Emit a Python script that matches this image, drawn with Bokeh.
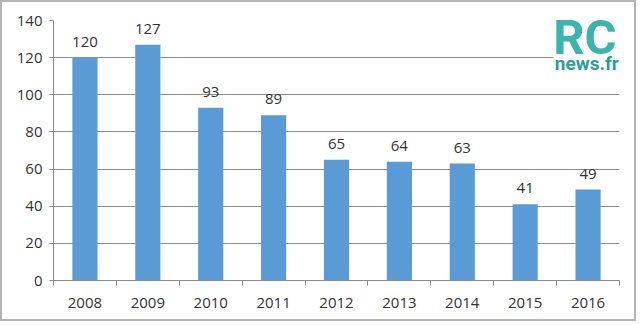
from bokeh.plotting import figure
from bokeh.models import Range1d, FixedTicker, LabelSet, ColumnDataSource, BoxAnnotation
from bokeh.core.properties import value
from bokeh.embed import file_html
from bokeh.resources import INLINE

years = ["2008", "2009", "2010", "2011", "2012", "2013", "2014", "2015", "2016"]
counts = [120, 127, 93, 89, 65, 64, 63, 41, 49]
y_ticks = [0, 20, 40, 60, 80, 100, 120, 140]

FONT = "Open Sans"
TXT = "#333333"
GRID = "#8c8c8c"

xpos = [i + 0.5 for i in range(len(years))]
src = ColumnDataSource(dict(x=xpos, top=counts, lab=[str(c) for c in counts]))

p = figure(width=636, height=321, output_backend="svg", toolbar_location=None,
           x_range=Range1d(0, len(years)), y_range=Range1d(0, 140))
p.styles = {"border": "2px solid #b4b4b4"}
p.min_border_left = 51
p.min_border_right = 19
p.min_border_top = 18
p.min_border_bottom = 43
p.outline_line_color = None
p.background_fill_color = "white"
p.border_fill_color = "white"

p.vbar(x="x", top="top", width=0.4, source=src, fill_color="#5b9bd5", line_color=None)

# y axis
yax = p.yaxis[0]
yax.ticker = FixedTicker(ticks=y_ticks)
yax.axis_line_color = GRID
yax.major_tick_line_color = GRID
yax.major_tick_out = 4
yax.major_tick_in = 0
yax.minor_tick_line_color = None
yax.major_label_standoff = 7
yax.major_label_text_font = FONT
yax.major_label_text_font_size = "15px"
yax.major_label_text_color = TXT

# x axis: labels at centers, tick marks between categories
xax = p.xaxis[0]
xax.ticker = FixedTicker(ticks=xpos, minor_ticks=list(range(len(years) + 1)))
xax.major_label_overrides = {x: y for x, y in zip(xpos, years)}
xax.axis_line_color = GRID
xax.major_tick_line_color = None
xax.major_tick_out = 0
xax.major_tick_in = 0
xax.minor_tick_line_color = GRID
xax.minor_tick_out = 5
xax.minor_tick_in = 0
xax.major_label_standoff = 12
xax.major_label_text_font = FONT
xax.major_label_text_font_size = "15px"
xax.major_label_text_color = TXT

p.xgrid.grid_line_color = None
p.ygrid.ticker = FixedTicker(ticks=y_ticks)
p.ygrid.grid_line_color = GRID
p.ygrid.grid_line_width = 1

labels = LabelSet(x="x", y="top", text="lab", source=src, y_offset=16,
                  text_align="center", text_baseline="middle",
                  text_font=value(FONT), text_font_size="15px", text_color=TXT)
p.add_layout(labels)

# logo (white patch behind it, then the text)
p.add_layout(BoxAnnotation(left=7.95, right=9, bottom=112, top=141, level="annotation",
                           fill_color="white", fill_alpha=1, line_color=None))
rc = p.text(x=[8.45], y=[130.9], text=["RC"], text_font=value("Roboto"),
            text_font_style="bold", text_font_size="49px", text_color="#3ab4ac",
            text_align="center", text_baseline="middle")
nw = p.text(x=[8.48], y=[117.1], text=["news.fr"], text_font=value("Roboto"),
            text_font_style="bold", text_font_size="19px", text_color="#2a9e97",
            text_align="center", text_baseline="middle")
rc.level = "overlay"
nw.level = "overlay"

open("out.html", "w").write(file_html(p, INLINE))
